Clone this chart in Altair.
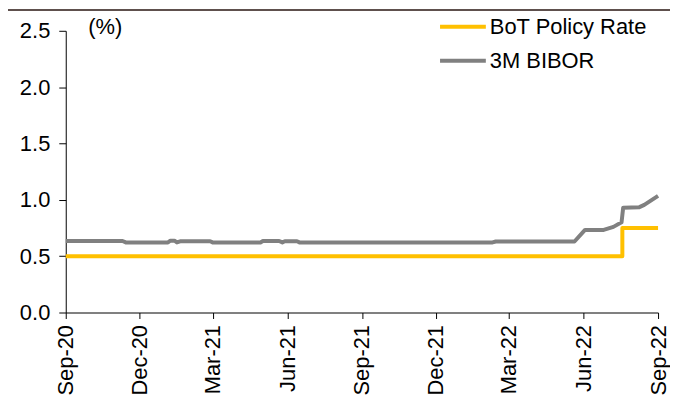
import altair as alt
import pandas as pd

# ---- data ----
policy_dates = ["2020-09-01", "2022-07-19", "2022-07-19", "2022-09-01"]
policy_values = [0.50, 0.50, 0.75, 0.75]

bibor_dates = [
    "2020-09-01", "2020-11-10", "2020-11-14", "2021-01-05", "2021-01-08",
    "2021-01-13", "2021-01-16", "2021-01-20", "2021-02-26", "2021-03-01",
    "2021-04-29", "2021-05-02", "2021-05-22", "2021-05-26", "2021-05-29",
    "2021-06-13", "2021-06-16", "2022-02-09", "2022-02-13", "2022-05-21",
    "2022-06-03", "2022-06-26", "2022-07-08", "2022-07-18", "2022-07-20",
    "2022-08-09", "2022-08-15", "2022-09-01",
]
bibor_values = [
    0.635, 0.635, 0.622, 0.622, 0.637,
    0.637, 0.622, 0.632, 0.632, 0.622,
    0.622, 0.635, 0.635, 0.622, 0.632,
    0.632, 0.622, 0.622, 0.630, 0.630,
    0.733, 0.733, 0.760, 0.800, 0.930,
    0.935, 0.955, 1.035,
]

series_names = ["BoT Policy Rate", "3M BIBOR"]
series_colors = ["#FFC000", "#808080"]
y_ticks = [0.0, 0.5, 1.0, 1.5, 2.0, 2.5]
x_ticks = ["2020-09-01", "2020-12-01", "2021-03-01", "2021-06-01", "2021-09-01",
           "2021-12-01", "2022-03-01", "2022-06-01", "2022-09-01"]

rows = []
for i, (d, v) in enumerate(zip(policy_dates, policy_values)):
    rows.append({"date": d, "value": v, "series": series_names[0], "order": i})
for i, (d, v) in enumerate(zip(bibor_dates, bibor_values)):
    rows.append({"date": d, "value": v, "series": series_names[1], "order": i})
df = pd.DataFrame(rows)

FONT = "Liberation Sans"
FS = 22
W, H = 595, 283

x_enc = alt.X(
    "date:T",
    scale=alt.Scale(domain=["2020-09-01", "2022-09-01"]),
    axis=alt.Axis(
        values=[pd.Timestamp(t).isoformat() for t in x_ticks],
        format="%b-%y",
        labelAngle=270,
        labelAlign="right",
        labelBaseline="middle",
        labelPadding=6,
        tickSize=6,
        grid=False,
        title=None,
        labelFontSize=FS,
        labelFont=FONT,
        labelColor="#000000",
        domainColor="#000000",
        tickColor="#000000",
        labelOverlap=False,
    ),
)
y_enc = alt.Y(
    "value:Q",
    scale=alt.Scale(domain=[0, 2.5], nice=False),
    axis=alt.Axis(
        values=y_ticks,
        format=".1f",
        tickSize=7,
        labelPadding=9,
        grid=False,
        title="(%)",
        titleAngle=0,
        titleAlign="left",
        titleBaseline="middle",
        titleX=22,
        titleY=-4,
        titleFont=FONT,
        titleFontSize=FS,
        titleFontWeight="normal",
        titleColor="#000000",
        labelFontSize=FS,
        labelFont=FONT,
        labelColor="#000000",
        domainColor="#000000",
        tickColor="#000000",
    ),
)

lines = alt.Chart(df).mark_line(strokeWidth=4, strokeJoin="round", strokeCap="butt").encode(
    x=x_enc,
    y=y_enc,
    order="order:Q",
    color=alt.Color(
        "series:N",
        scale=alt.Scale(domain=series_names, range=series_colors),
        legend=alt.Legend(
            title=None,
            orient="none",
            legendX=374,
            legendY=-15,
            symbolType="stroke",
            symbolSize=2116,
            symbolStrokeWidth=4,
            labelFontSize=FS,
            labelFont=FONT,
            labelColor="#000000",
            labelOffset=2,
            clipHeight=22,
            rowPadding=12,
        ),
    ),
)

top_rule = alt.Chart(pd.DataFrame({"a": [0]})).mark_rule(
    color="#5E504D", strokeWidth=2
).encode(x=alt.value(-60), x2=alt.value(W + 20), y=alt.value(-21))

chart = alt.layer(lines, top_rule).properties(
    width=W,
    height=H,
    background="#ffffff",
    autosize=alt.AutoSizeParams(type="none"),
    padding={"left": 58, "top": 22, "right": 12, "bottom": 90},
).configure_view(strokeWidth=0)

chart.save("out.html", embed_options={"renderer": "svg", "actions": False})
